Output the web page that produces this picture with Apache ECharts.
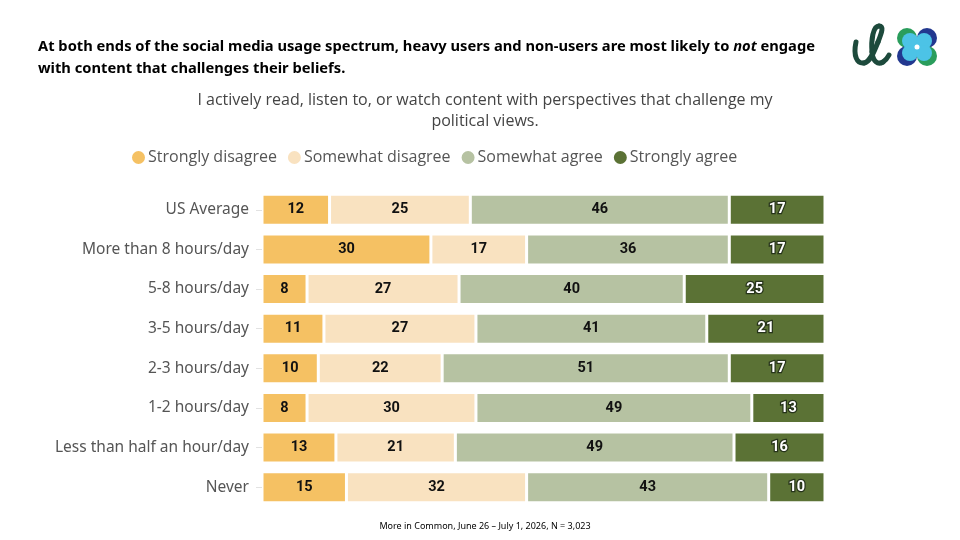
<!DOCTYPE html>
<html><head><meta charset="utf-8">
<script src="https://cdn.jsdelivr.net/npm/echarts@6/dist/echarts.min.js"></script>
<style>html,body{margin:0;padding:0;background:#fff}#c{width:960px;height:540px}</style>
</head><body><div id="c"></div>
<script>
const categories = ["US Average","More than 8 hours/day","5-8 hours/day","3-5 hours/day","2-3 hours/day","1-2 hours/day","Less than half an hour/day","Never"];
const seriesNames = ["Strongly disagree","Somewhat disagree","Somewhat agree","Strongly agree"];
const stronglyDisagree = [12,30,8,11,10,8,13,15];
const somewhatDisagree = [25,17,27,27,22,30,21,32];
const somewhatAgree = [46,36,40,41,51,49,49,43];
const stronglyAgree = [17,17,25,21,17,13,16,10];
const colors = ["#F5C163","#F9E2C0","#B6C2A2","#5B7235"];

const raw = [stronglyDisagree, somewhatDisagree, somewhatAgree, stronglyAgree];
const totals = categories.map((_, i) => raw.reduce((s, a) => s + a[i], 0));

const series = raw.map((arr, k) => ({
  name: seriesNames[k],
  type: 'bar',
  stack: 'all',
  barWidth: 31,
  data: arr.map((v, i) => ({ value: v / totals[i] * 100, raw: v })),
  itemStyle: { color: colors[k], borderColor: '#fff', borderWidth: 1.5 },
  label: {
    show: true,
    position: 'inside',
    formatter: p => p.data.raw,
    fontFamily: 'Roboto',
    fontWeight: 'bold',
    fontSize: 14.5,
    color: k === 3 ? '#fff' : '#111',
    textBorderColor: k === 3 ? '#26331a' : 'transparent',
    textBorderWidth: k === 3 ? 2.5 : 0
  },
  emphasis: { disabled: true }
}));

const logoStroke = { fill: 'none', stroke: '#1d4a3c', lineWidth: 5, lineCap: 'round' };
const logoCurves = [
  [856,42, 864,63, 853,56, 857,64],
  [864,63, 878,42, 870,62, 874,52],
  [878,42, 879,26, 882,32, 884,26],
  [879,26, 872,52, 873,26, 871,40],
  [872,52, 883,62, 873,62, 878,65],
  [883,62, 889,55, 886,60, 888,57]
].map(c => ({ type: 'bezierCurve',
  shape: { x1: c[0], y1: c[1], x2: c[2], y2: c[3], cpx1: c[4], cpy1: c[5], cpx2: c[6], cpy2: c[7] },
  style: logoStroke }));

const chart = echarts.init(document.getElementById('c'));
chart.setOption({
  animation: false,
  title: [
    { text: 'At both ends of the social media usage spectrum, heavy users and non-users are most likely to {i|not} engage\nwith content that challenges their beliefs.',
      left: 33, top: 31,
      textStyle: { fontFamily: 'Noto Sans', fontWeight: 'bold', fontSize: 14.7, color: '#000', lineHeight: 22,
        rich: { i: { fontFamily: 'Noto Sans', fontWeight: 'bold', fontStyle: 'italic', fontSize: 14.7, color: '#000' } } } },
    { text: 'I actively read, listen to, or watch content with perspectives that challenge my\npolitical views.',
      left: 480, textAlign: 'center', top: 85,
      textStyle: { fontFamily: 'Open Sans', fontWeight: 'normal', fontSize: 16, color: '#444', lineHeight: 21 } },
    { text: 'More in Common, June 26 \u2013 July 1, 2026, N = 3,023',
      left: 480, textAlign: 'center', top: 517,
      textStyle: { fontFamily: 'Noto Sans', fontWeight: 'normal', fontSize: 9, color: '#000' } }
  ],
  legend: {
    top: 144, left: 125,
    icon: 'circle', itemWidth: 15, itemHeight: 15, itemGap: 9,
    selectedMode: false,
    textStyle: { fontFamily: 'Open Sans', fontSize: 16, color: '#555', padding: [0,0,0,-3] },
    data: seriesNames
  },
  grid: { left: 262, right: 135, top: 190, bottom: 33, containLabel: false },
  xAxis: { type: 'value', min: 0, max: 100, show: false },
  yAxis: {
    type: 'category', data: categories, inverse: true,
    axisLine: { show: false },
    axisTick: { show: true, length: 6, lineStyle: { color: '#e2e2e2' }, alignWithLabel: true },
    axisLabel: { fontFamily: 'Noto Sans', fontSize: 15.5, color: '#555', margin: 13 }
  },
  series: series,
  graphic: logoCurves.concat([
    { type: 'circle', shape: { cx: 907, cy: 38, r: 10 }, style: { fill: '#2a9d5c' } },
    { type: 'circle', shape: { cx: 927, cy: 38, r: 10 }, style: { fill: '#22388f' } },
    { type: 'circle', shape: { cx: 907, cy: 56, r: 10 }, style: { fill: '#22388f' } },
    { type: 'circle', shape: { cx: 927, cy: 56, r: 10 }, style: { fill: '#2a9d5c' } },
    { type: 'circle', shape: { cx: 910, cy: 41, r: 8 }, style: { fill: '#4cc3e6' } },
    { type: 'circle', shape: { cx: 924, cy: 41, r: 8 }, style: { fill: '#4cc3e6' } },
    { type: 'circle', shape: { cx: 910, cy: 53, r: 8 }, style: { fill: '#4cc3e6' } },
    { type: 'circle', shape: { cx: 924, cy: 53, r: 8 }, style: { fill: '#4cc3e6' } },
    { type: 'circle', shape: { cx: 917, cy: 47, r: 2.5 }, style: { fill: '#fff' } }
  ])
});
</script></body></html>
